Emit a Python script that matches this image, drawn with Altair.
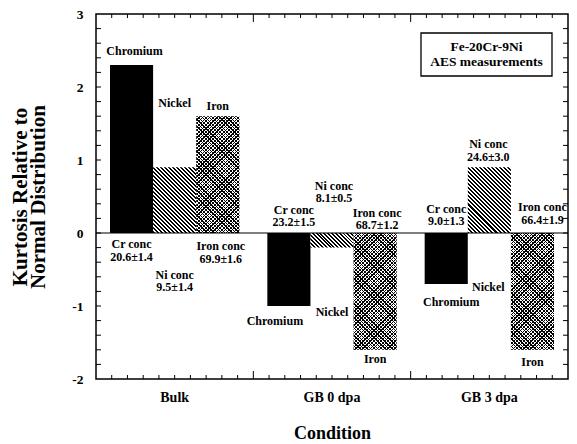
import math
import altair as alt
import pandas as pd

# ---------------- data ----------------
conditions = ["Bulk", "GB 0 dpa", "GB 3 dpa"]
elements = ["Chromium", "Nickel", "Iron"]
chromium = [2.3, -1.0, -0.7]
nickel = [0.9, -0.2, 0.9]
iron = [1.6, -1.6, -1.6]

cr_conc = ["20.6±1.4", "23.2±1.5", "9.0±1.3"]
ni_conc = ["9.5±1.4", "8.1±0.5", "24.6±3.0"]
fe_conc = ["69.9±1.6", "68.7±1.2", "66.4±1.9"]
conc_prefix = ["Cr conc", "Ni conc", "Iron conc"]

# annotation anchors (data units) and horizontal nudges (px), [condition][element]
name_y = [[2.49, 1.78, 1.74], [-1.205, -1.08, -1.73], [-0.945, -0.74, -1.77]]
name_dx = [[3, 0, 0], [-14, 0, 0], [5, -1, 0]]
conc_y = [[-0.24, -0.66, -0.27], [0.23, 0.56, 0.19], [0.25, 1.13, 0.27]]
conc_dx = [[0, 0, 3], [5, 2, 2], [0, -1, 10]]

# axis tick decorations
x_major_ticks = [1, 2]
x_minor_ticks = [0.1, 0.2, 0.3, 0.4, 0.5, 0.6, 0.7, 0.8, 0.9,
                 1.1, 1.2, 1.3, 1.4, 1.5, 1.6, 1.7, 1.8, 1.9,
                 2.1, 2.2, 2.3, 2.4, 2.5, 2.6, 2.7, 2.8, 2.9]
y_ticks = [-1.8, -1.6, -1.4, -1.2, -1.0, -0.8, -0.6, -0.4, -0.2, 0.0,
           0.2, 0.4, 0.6, 0.8, 1.0, 1.2, 1.4, 1.6, 1.8, 2.0, 2.2, 2.4, 2.6, 2.8]

# ---------------- layout ----------------
W, H = 472, 365
YMIN, YMAX = -2, 3
PPU = H / (YMAX - YMIN)
PI, PO = 0.178, 0.089
STEP = W / (len(conditions) - PI + 2 * PO)
BAR_W = STEP * (1 - PI) / 3
FONT = "Liberation Serif"
LH = 12.5

df = pd.DataFrame({
    "Condition": conditions * 3,
    "Element": ["Chromium"] * 3 + ["Nickel"] * 3 + ["Iron"] * 3,
    "Kurtosis": chromium + nickel + iron,
})


def stripes(h, period, frac, on, off, direction):
    w = BAR_W
    r = h / w
    k = (1 + r) / (1 + r * r)
    L = (w + h) / math.sqrt(2)
    n = max(1, round(L / period))
    if direction == "down":
        x1, y1, x2, y2 = 0, 1, k, 1 - k * r
    else:
        x1, y1, x2, y2 = 0, 0, k, k * r
    stops = []
    for i in range(n):
        a, b, c = i / n, (i + frac) / n, (i + 1) / n
        stops += [{"offset": a, "color": on}, {"offset": b, "color": on},
                  {"offset": b, "color": off}, {"offset": c, "color": off}]
    return {"gradient": "linear", "x1": x1, "y1": y1, "x2": x2, "y2": y2,
            "stops": stops}


x_enc = alt.X(
    "Condition:N",
    scale=alt.Scale(domain=conditions, paddingInner=PI, paddingOuter=PO),
    axis=alt.Axis(title="Condition", labelAngle=0, ticks=False, domain=False,
                  labelFont=FONT, labelFontSize=14, labelFontWeight="bold",
                  labelColor="black", labelPadding=11,
                  titleFont=FONT, titleFontSize=18, titleFontWeight="bold",
                  titleColor="black", titlePadding=20),
)
xoff_enc = alt.XOffset("Element:N",
                       scale=alt.Scale(domain=elements, paddingInner=0, paddingOuter=0))
y_scale = alt.Scale(domain=[YMIN, YMAX], nice=False, zero=False)
y_axis = alt.Axis(title=["Kurtosis Relative to", "Normal Distribution"],
                  values=[-2, -1, 0, 1, 2, 3], labelExpr="datum.value + ''",
                  ticks=False, domain=False, grid=False,
                  labelFont=FONT, labelFontSize=13.5, labelFontWeight="bold",
                  labelColor="black", labelPadding=13,
                  titleFont=FONT, titleFontSize=21, titleFontWeight="bold",
                  titleColor="black", titlePadding=23, titleLineHeight=18)


def y_enc(field):
    return alt.Y(field, scale=y_scale, axis=y_axis)


base = alt.Chart(df)
layers = []

# chromium: solid black
layers.append(base.transform_filter(alt.datum.Element == "Chromium")
              .mark_bar(fill="black")
              .encode(x=x_enc, xOffset=xoff_enc, y=y_enc("Kurtosis:Q")))

# nickel: diagonal hatching, iron: fine stipple (cross-hatch)
for c, v in zip(conditions, nickel):
    h = abs(v) * PPU
    layers.append(base.transform_filter((alt.datum.Element == "Nickel") & (alt.datum.Condition == c))
                  .mark_bar(fill=stripes(h, 2.8, 0.5, "#000000", "#ffffff", "down"))
                  .encode(x=x_enc, xOffset=xoff_enc, y=y_enc("Kurtosis:Q")))
for c, v in zip(conditions, iron):
    h = abs(v) * PPU
    flt = (alt.datum.Element == "Iron") & (alt.datum.Condition == c)
    layers.append(base.transform_filter(flt)
                  .mark_bar(fill=stripes(h, 2.5, 0.36, "#000000", "#ffffff", "down"))
                  .encode(x=x_enc, xOffset=xoff_enc, y=y_enc("Kurtosis:Q")))
    layers.append(base.transform_filter(flt)
                  .mark_bar(fill=stripes(h, 2.5, 0.36, "#000000", "rgba(0,0,0,0)", "up"))
                  .encode(x=x_enc, xOffset=xoff_enc, y=y_enc("Kurtosis:Q")))

# zero line
layers.append(alt.Chart(pd.DataFrame({"Kurtosis": [0]}))
              .mark_rule(color="black", strokeWidth=1.2)
              .encode(y=y_enc("Kurtosis:Q"), x=alt.value(0), x2=alt.value(W)))

# y ticks (inward) left & right
yt = pd.DataFrame({"yt": y_ticks})
layers.append(alt.Chart(yt).mark_rule(color="black", strokeWidth=1)
              .encode(y=y_enc("yt:Q"), x=alt.value(0), x2=alt.value(5)))
layers.append(alt.Chart(yt).mark_rule(color="black", strokeWidth=1)
              .encode(y=y_enc("yt:Q"), x=alt.value(W), x2=alt.value(W - 5)))

# annotations
rows = []
concs = [cr_conc, ni_conc, fe_conc]
for i, c in enumerate(conditions):
    for j, e in enumerate(elements):
        rows.append({"Condition": c, "Element": e, "ly": name_y[i][j],
                     "dx": name_dx[i][j], "kind": "name", "label": e})
        rows.append({"Condition": c, "Element": e, "ly": conc_y[i][j],
                     "dx": conc_dx[i][j], "kind": "conc",
                     "label": conc_prefix[j] + "\n" + concs[j][i]})
lab = pd.DataFrame(rows)
for kind, dy in [("name", 0), ("conc", -LH / 2)]:
    sub = lab[lab["kind"] == kind]
    for d in sorted(sub["dx"].unique()):
        layers.append(alt.Chart(lab)
                      .transform_filter((alt.datum.dx == int(d)) & (alt.datum.kind == kind))
                      .mark_text(font=FONT, fontSize=12, fontWeight="bold", color="black",
                                 lineBreak="\n", lineHeight=LH, baseline="middle",
                                 dx=int(d), dy=dy)
                      .encode(x=x_enc, xOffset=xoff_enc, y=y_enc("ly:Q"),
                              text="label:N"))

# legend box
one = pd.DataFrame({"k": [0]})
layers.append(alt.Chart(one).mark_rect(fill="white", stroke="black", strokeWidth=1.3)
              .encode(x=alt.value(325), x2=alt.value(456), y=alt.value(19), y2=alt.value(62)))
layers.append(alt.Chart(one).mark_text(font=FONT, fontSize=13.5, fontWeight="bold",
                                       color="black", baseline="top", lineHeight=15,
                                       text=["Fe-20Cr-9Ni", "AES measurements"])
              .encode(x=alt.value(390.5), y=alt.value(26)))

bars = alt.layer(*layers)

# x tick decorations on an independent quantitative scale
xq = alt.Scale(domain=[0, 3], nice=False, zero=False)
xmaj = pd.DataFrame({"xt": x_major_ticks})
xmin = pd.DataFrame({"xt": x_minor_ticks})
tick_layers = []
for dfr, ln in [(xmaj, 8), (xmin, 4)]:
    tick_layers.append(alt.Chart(dfr).mark_rule(color="black", strokeWidth=1)
                       .encode(x=alt.X("xt:Q", scale=xq, axis=None),
                               y=alt.value(0), y2=alt.value(ln)))
    tick_layers.append(alt.Chart(dfr).mark_rule(color="black", strokeWidth=1)
                       .encode(x=alt.X("xt:Q", scale=xq, axis=None),
                               y=alt.value(H), y2=alt.value(H - ln)))
ticks = alt.layer(*tick_layers)

chart = (alt.layer(bars, ticks)
         .resolve_scale(x="independent")
         .properties(width=W, height=H,
                     autosize=alt.AutoSizeParams(type="none"),
                     padding={"left": 96, "top": 14, "right": 9, "bottom": 65},
                     background="white")
         .configure_view(stroke="black", strokeWidth=1.5)
         .configure_axis(grid=False))

chart.save("out.html", embed_options={"renderer": "svg", "actions": False})
